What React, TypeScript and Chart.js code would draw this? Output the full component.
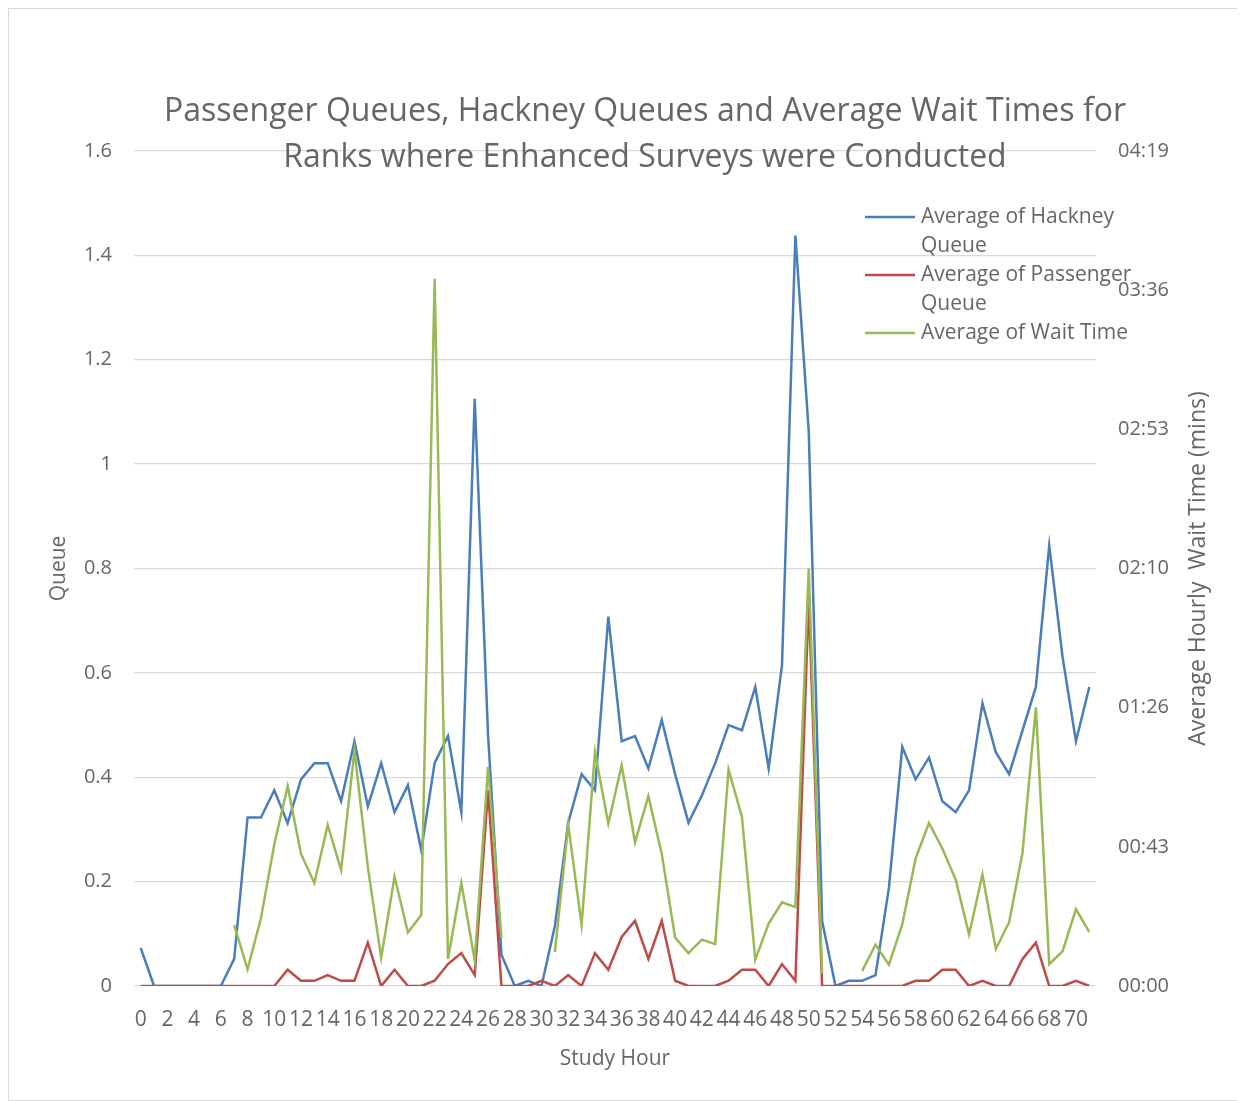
import React, { useEffect, useRef } from "react";
import { Chart, registerables } from "chart.js";

Chart.register(...registerables);

const studyHours = [
  "0", "1", "2", "3", "4", "5", "6", "7", "8", "9", "10", "11", "12", "13", "14", "15", "16", "17",
  "18", "19", "20", "21", "22", "23", "24", "25", "26", "27", "28", "29", "30", "31", "32", "33", "34", "35",
  "36", "37", "38", "39", "40", "41", "42", "43", "44", "45", "46", "47", "48", "49", "50", "51", "52", "53",
  "54", "55", "56", "57", "58", "59", "60", "61", "62", "63", "64", "65", "66", "67", "68", "69", "70", "71",
];

const hackneyQueue = [
  0.073, 0, 0, 0, 0, 0, 0, 0.052, 0.323, 0.323, 0.375, 0.312, 0.396, 0.427, 0.427, 0.354, 0.469, 0.344,
  0.427, 0.333, 0.385, 0.26, 0.427, 0.479, 0.333, 1.125, 0.48, 0.06, 0, 0.01, 0, 0.115, 0.313, 0.406, 0.375, 0.708,
  0.469, 0.479, 0.417, 0.51, 0.406, 0.313, 0.365, 0.427, 0.5, 0.49, 0.573, 0.417, 0.615, 1.438, 1.063, 0.125, 0, 0.01,
  0.01, 0.021, 0.188, 0.458, 0.396, 0.438, 0.354, 0.333, 0.375, 0.542, 0.448, 0.406, 0.49, 0.573, 0.844, 0.63, 0.469, 0.573,
];

const passengerQueue = [
  0, 0, 0, 0, 0, 0, 0, 0, 0, 0, 0, 0.031, 0.01, 0.01, 0.021, 0.01, 0.01, 0.083,
  0, 0.031, 0, 0, 0.01, 0.042, 0.063, 0.021, 0.375, 0, 0, 0, 0.01, 0, 0.021, 0, 0.063, 0.031,
  0.094, 0.125, 0.052, 0.125, 0.01, 0, 0, 0, 0.01, 0.031, 0.031, 0, 0.042, 0.01, 0.74, 0, 0, 0,
  0, 0, 0, 0, 0.01, 0.01, 0.031, 0.031, 0, 0.01, 0, 0, 0.052, 0.083, 0, 0, 0.01, 0,
];

// average wait time in seconds (right axis shows mm:ss)
const waitTimeSeconds = [
  null, null, null, null, null, null, null, 18.9, 5.2, 21, 44, 62, 41, 32, 50, 36, 73, 37,
  8.7, 34, 16.6, 22, 219.5, 8.4, 32, 8, 68, 15, null, null, null, 10.5, 50, 19, 72.6, 50.4,
  68.5, 44.6, 59, 41, 15, 10.2, 14.4, 13, 67.2, 52.5, 8.2, 19.4, 26, 24.5, 129.6, 3.9, null, null,
  4.7, 12.8, 6.6, 19.1, 39.6, 50.6, 42.7, 33, 16, 34.6, 11.5, 19.8, 41.3, 86.5, 6.8, 10.8, 23.9, 16.7,
];

const titleLines = [
  "Passenger Queues, Hackney Queues and Average Wait Times for",
  "Ranks where Enhanced Surveys were Conducted",
];
const seriesNames = ["Average of Hackney Queue", "Average of Passenger Queue", "Average of Wait Time"];
const legendLines = [["Average of Hackney", "Queue"], ["Average of Passenger", "Queue"], ["Average of Wait Time"]];
const seriesColors = ["#4a7ebb", "#be4b48", "#98b954"];
const leftAxisTitle = "Queue";
const rightAxisTitle = "Average Hourly  Wait Time (mins)";
const xAxisTitle = "Study Hour";

const TEXT = "#666666";
const GRID = "#d9d9d9";
const FONT = "'Open Sans', sans-serif";

function mmss(v: number) {
  const s = Math.round(v);
  const m = Math.floor(s / 60);
  const r = s % 60;
  return String(m).padStart(2, "0") + ":" + String(r).padStart(2, "0");
}

const overlayPlugin = {
  id: "overlay",
  afterDraw(chart: any) {
    const ctx = chart.ctx as CanvasRenderingContext2D;
    const area = chart.chartArea;
    ctx.save();
    ctx.fillStyle = TEXT;
    ctx.textAlign = "center";
    ctx.textBaseline = "middle";
    ctx.font = `32px ${FONT}`;
    ctx.fillText(titleLines[0], 636, 103);
    ctx.fillText(titleLines[1], 636, 149);

    // right axis title (reads bottom to top)
    ctx.save();
    ctx.translate(1189, (area.top + area.bottom) / 2);
    ctx.rotate(-Math.PI / 2);
    ctx.font = `23px ${FONT}`;
    ctx.fillText(rightAxisTitle, 0, 0);
    ctx.restore();

    // legend
    ctx.font = `21px ${FONT}`;
    ctx.textAlign = "left";
    let y = 208;
    legendLines.forEach((lines, i) => {
      ctx.strokeStyle = seriesColors[i];
      ctx.lineWidth = 2.5;
      ctx.beginPath();
      ctx.moveTo(856, y);
      ctx.lineTo(906, y);
      ctx.stroke();
      lines.forEach((t, j) => {
        ctx.fillStyle = TEXT;
        ctx.fillText(t, 912, y + j * 29);
      });
      y += lines.length * 29;
    });
    ctx.restore();
  },
};

export default function App() {
  const ref = useRef<HTMLCanvasElement | null>(null);
  useEffect(() => {
    if (!ref.current) return;
    const chart = new Chart(ref.current, {
      type: "line",
      data: {
        labels: studyHours,
        datasets: [
          {
            label: seriesNames[0],
            data: hackneyQueue,
            borderColor: seriesColors[0],
            backgroundColor: seriesColors[0],
            borderWidth: 2.5,
            pointRadius: 0,
            yAxisID: "y",
            order: 3,
          },
          {
            label: seriesNames[1],
            data: passengerQueue,
            borderColor: seriesColors[1],
            backgroundColor: seriesColors[1],
            borderWidth: 2.5,
            pointRadius: 0,
            yAxisID: "y",
            order: 2,
          },
          {
            label: seriesNames[2],
            data: waitTimeSeconds,
            borderColor: seriesColors[2],
            backgroundColor: seriesColors[2],
            borderWidth: 2.5,
            pointRadius: 0,
            yAxisID: "y1",
            order: 1,
            spanGaps: false,
          },
        ],
      },
      options: {
        animation: false,
        responsive: true,
        maintainAspectRatio: false,
        layout: { padding: { top: 142, left: 0, right: 0, bottom: 0 } },
        plugins: {
          legend: { display: false },
          title: { display: false },
          tooltip: { enabled: false },
        },
        scales: {
          x: {
            type: "category",
            offset: true,
            grid: { display: false, drawTicks: false },
            border: { display: false },
            afterFit: (s: any) => {
              s.height = 114;
            },
            ticks: {
              color: TEXT,
              font: { family: FONT, size: 21 },
              autoSkip: false,
              maxRotation: 0,
              minRotation: 0,
              padding: 21,
              callback: (_v: any, i: number) => (i % 2 === 0 ? studyHours[i] : ""),
            },
            title: {
              display: true,
              text: xAxisTitle,
              color: TEXT,
              font: { family: FONT, size: 21 },
              padding: { top: 0, bottom: 28 },
            },
          },
          y: {
            position: "left",
            min: 0,
            max: 1.6,
            grid: { color: GRID, lineWidth: 1.3, drawTicks: false },
            border: { display: false },
            afterFit: (s: any) => {
              s.width = 125;
            },
            ticks: {
              stepSize: 0.2,
              color: TEXT,
              font: { family: FONT, size: 20 },
              padding: 22,
              callback: (v: any) => String(Math.round(Number(v) * 10) / 10),
            },
            title: {
              display: true,
              text: leftAxisTitle,
              color: TEXT,
              font: { family: FONT, size: 21 },
              padding: { top: 37, bottom: 0 },
            },
          },
          y1: {
            position: "right",
            min: 0,
            max: 259.2,
            grid: { display: false, drawTicks: false },
            border: { display: false },
            afterFit: (s: any) => {
              s.width = 148;
            },
            ticks: {
              stepSize: 43.2,
              color: TEXT,
              font: { family: FONT, size: 20 },
              padding: 22,
              callback: (v: any) => mmss(Number(v)),
            },
          },
        },
      },
      plugins: [overlayPlugin],
    });
    return () => chart.destroy();
  }, []);

  return (
    <div
      style={{
        width: 1237,
        height: 1093,
        border: "1px solid #d9d9d9",
        boxSizing: "border-box",
        position: "relative",
        background: "#fff",
      }}
    >
      <div style={{ position: "relative", width: "100%", height: "100%" }}>
        <canvas ref={ref} />
      </div>
    </div>
  );
}
